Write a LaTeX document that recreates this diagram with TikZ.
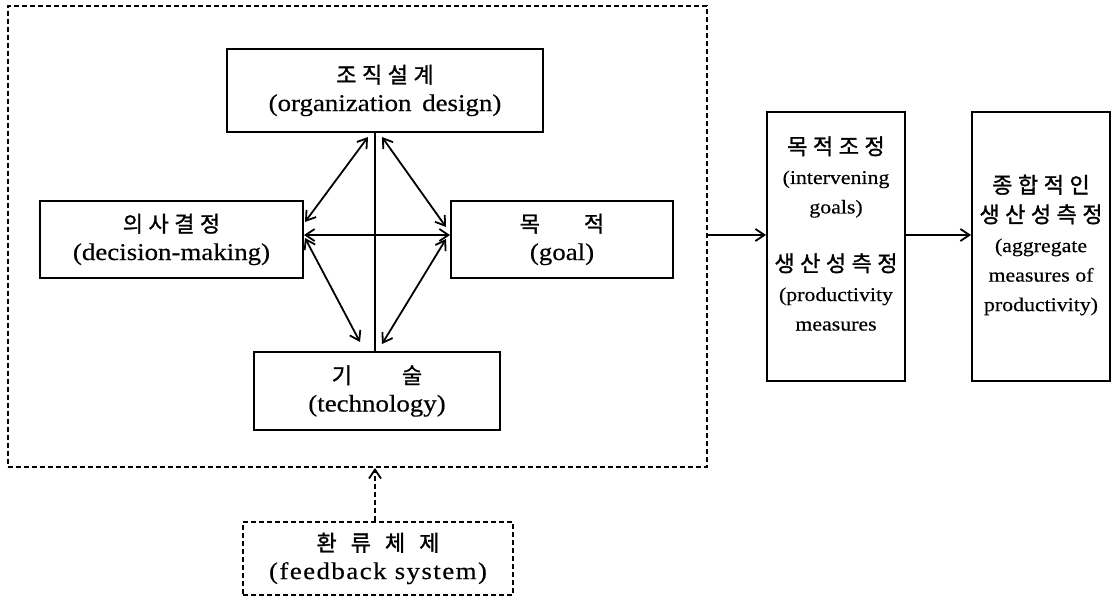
\documentclass[tikz,border=0pt]{standalone}
\usepackage{fontspec}
\setmainfont{Liberation Serif}[FakeStretch=1.12, FakeBold=0.4]
\newfontfamily\kr{Noto Sans CJK KR}[LetterSpace=25, FakeBold=1.2]
\usetikzlibrary{arrows.meta}
\newcommand\ko[1]{{\kr\fontsize{22}{28}\selectfont #1}}
\newcommand\kos[1]{{\kr\fontsize{22}{29.5}\selectfont #1}}
\tikzset{
  box/.style={draw, line width=2pt, inner sep=0pt, align=center, font=\fontsize{24}{28}\selectfont},
  dbox/.style={box, line width=1.8pt, dash pattern=on 5pt off 3pt},
  small/.style={align=center, inner sep=0pt, font=\fontsize{19.5}{29.5}\selectfont},
  conn/.style={line width=1.8pt},
  arr/.style={conn, -{Straight Barb[length=9pt,width=12pt]}},
  darr/.style={conn, {Straight Barb[length=9pt,width=12pt]}-{Straight Barb[length=9pt,width=12pt]}},
}
\begin{document}
\begin{tikzpicture}[x=1pt,y=-1pt]
\useasboundingbox (0,0) rectangle (1118,600);
\node[dbox, minimum width=699pt, minimum height=461pt] (outer) at (357.5,236.5) {};
\node[box, minimum width=316pt, minimum height=83pt] (org) at (385,90.5) {\ko{조직설계}\\(organization\hspace{4pt} design)};
\node[box, minimum width=263pt, minimum height=77pt] (dec) at (171.5,239.5) {\ko{의사결정}\\(decision-making)};
\node[box, minimum width=222pt, minimum height=77pt] (goal) at (562,239.5) {\ko{목\hspace{44pt}적}\\(goal)};
\node[box, minimum width=246pt, minimum height=78pt] (tech) at (377,391) {\ko{기\hspace{50pt}술}\\(technology)};
\node[box, minimum width=138pt, minimum height=269pt] (mid) at (836,246.5) {};
\node[box, minimum width=138pt, minimum height=269pt] (agg) at (1041,246.5) {};
\node[small] (m1) at (836,177) {\kos{목적조정}\\(intervening\\goals)};
\node[small] (m2) at (836,292) {\kos{생산성측정}\\(productivity\\measures};
\node[small] (r1) at (1041,245) {\kos{종합적인}\\\kos{생산성측정}\\(aggregate\\measures of\\productivity)};
\node[dbox, minimum width=270pt, minimum height=73pt] (fb) at (378,558.5)
  {\ko{환\hspace{14pt}류\hspace{14pt}체\hspace{14pt}제}\\{\addfontfeature{LetterSpace=6}(feedback system)}};
\coordinate (hy) at (0,235);
\coordinate (vx) at (375,0);
\coordinate (a1) at (368,137); \coordinate (a2) at (305,222);
\coordinate (b1) at (382,137); \coordinate (b2) at (446,227);
\coordinate (c1) at (305,238); \coordinate (c2) at (360,342);
\coordinate (d1) at (446,239); \coordinate (d2) at (382,344);
\draw[conn] (org.south -| vx) -- (tech.north -| vx);
\draw[darr] (dec.east |- hy) -- (goal.west |- hy);
\draw[darr] (a1) -- (a2);
\draw[darr] (b1) -- (b2);
\draw[darr] (c1) -- (c2);
\draw[darr] (d1) -- (d2);
\draw[arr] (outer.east |- hy) -- (mid.west |- hy);
\draw[arr] (mid.east |- hy) -- (agg.west |- hy);
\draw[arr, dash pattern=on 5pt off 3pt] (fb.north -| vx) -- (outer.south -| vx);
\end{tikzpicture}
\end{document}
